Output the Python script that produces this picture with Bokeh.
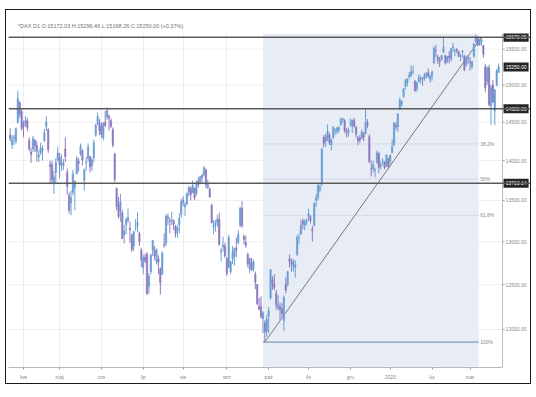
from bokeh.plotting import figure
from bokeh.models import FixedTicker, Span, ColumnDataSource, Range1d
from bokeh.embed import file_html
from bokeh.resources import INLINE
from bokeh.core.properties import value

# ---------------- data (DAX daily, 2022-03-23 .. 2023-03-22), x = trading-day index
opens = [14330,14200,14290,14250,14500,14760,14640,
 14470,14480,14520,14260,14110,14150,14260,14190,14050,14100,14130,14260,14440,14400,13950,13950,13720,13850,14010,
 14040,13960,13940,14150,13850,13560,13470,13600,13660,13830,13990,14090,14120,13750,13970,14030,14050,13930,14040,14330,14480,14480,
 14450,14300,14500,14570,14580,14520,14400,14080,13650,13450,13370,13350,13080,13200,13250,13160,13080,12950,13180,13200,13100,12900,
 12700,12820,12850,12480,12650,12900,12900,12770,12800,12680,12620,12970,12980,13300,13250,13250,13250,13180,13130,13200,13330,
 13500,13420,13460,13600,13650,13600,13650,13590,13740,13730,13780,13820,13880,13660,13640,13440,13180,13200,13230,13270,12880,12940,12950,
 12800,12700,12650,12800,12830,12930,12990,13200,13400,13060,12990,12850,12680,12750,12680,12620,12500,12260,12250,12120,12070,11980,
 12150,12350,12560,12510,12400,12240,12250,12230,12100,12500,12500,12800,12750,12720,12700,12850,13050,13100,13250,13200,13240,
 13300,13300,13150,13200,13500,13540,13630,13700,14300,14250,14300,14330,14200,14300,14380,14380,14400,14470,14530,14520,14360,14360,
 14480,14450,14520,14430,14290,14290,14290,14340,14350,14500,14310,13900,13900,13880,13980,14090,13930,13990,13980,13950,14020,
 13990,14100,14200,14460,14440,14680,14740,14840,14990,15030,15110,15130,15180,15050,14950,15050,15090,15090,15090,15130,15170,15080,
 15130,15310,15480,15390,15340,15350,15460,15410,15330,15400,15360,15520,15480,15490,15460,15400,15460,15400,15280,15370,
 15320,15250,15400,15600,15660,15560,15600,15550,15250,15050,15240,14720,15000,14650,15000,15172.03]
highs = [14420,14330,14340,14430,14925,14780,14670,
 14520,14580,14560,14300,14160,14320,14280,14250,14130,14230,14200,14410,14580,14420,14000,14000,13870,14030,14180,
 14100,14080,14020,14300,13900,13600,13620,13880,13750,14060,14030,14220,14150,13900,14050,14220,14060,14040,14270,14480,14630,14540,
 14500,14500,14650,14700,14600,14550,14430,14100,13660,13540,13580,13380,13200,13290,13400,13240,13100,13130,13270,13350,13120,12930,
 12850,12860,12880,12630,12860,13020,12950,12920,12840,12700,12890,13100,13330,13340,13290,13360,13270,13200,13200,13340,13520,
 13550,13480,13600,13680,13670,13750,13660,13750,13790,13800,13830,13930,13900,13760,13660,13460,13260,13260,13320,13350,12930,13060,12990,
 12820,13080,12780,12950,12930,13050,13140,13420,13490,13090,13070,12870,12810,12810,12790,12650,12510,12350,12370,12200,12100,12160,
 12250,12680,12600,12620,12440,12380,12300,12290,12380,12580,12660,12850,12800,12800,12780,13080,13100,13260,13280,13270,13280,
 13400,13320,13190,13480,13580,13700,13700,14160,14330,14350,14470,14360,14280,14450,14420,14440,14450,14560,14560,14540,14420,14430,
 14550,14530,14560,14450,14320,14330,14400,14370,14675,14540,14340,14000,14000,13910,14130,14110,13990,14030,13990,14080,14040,
 14080,14270,14500,14500,14620,14830,14800,14960,15080,15090,15180,15270,15270,15070,15050,15150,15130,15110,15170,15180,15230,15140,
 15200,15540,15560,15420,15390,15420,15660,15420,15400,15470,15510,15590,15510,15520,15480,15430,15490,15420,15410,15420,
 15390,15340,15580,15706,15680,15650,15660,15560,15290,15260,15280,15000,15070,14940,15220,15296.46]
lows = [14250,14150,14200,14220,14480,14560,14390,
 14300,14440,14380,14120,13970,14110,14110,13990,13980,14070,14000,14240,14380,14100,13710,13700,13580,13700,13990,
 13780,13870,13880,13980,13570,13340,13320,13560,13380,13830,13860,14060,13940,13620,13870,13990,13850,13870,13980,14310,14460,14330,
 14290,14260,14440,14530,14390,14420,14170,13730,13380,13280,13240,13030,12980,13090,13230,12990,12880,12890,13130,13110,12950,12700,
 12620,12750,12380,12400,12620,12830,12780,12730,12620,12390,12610,12930,12950,13200,13100,13200,13140,13050,13050,13100,13290,
 13430,13310,13440,13550,13500,13590,13500,13560,13660,13700,13720,13800,13650,13640,13530,13220,13090,13120,13180,12950,12770,12890,12810,
 12600,12690,12620,12740,12720,12820,12970,13170,13170,12970,12930,12700,12630,12660,12650,12450,12270,12210,12120,11960,11862,11920,
 11960,12330,12440,12440,12220,12210,12110,12140,11980,12400,12480,12700,12650,12650,12580,12830,12980,13080,13150,13140,13200,
 13250,13220,13000,13180,13420,13500,13600,13680,14170,14180,14250,14200,14130,14280,14330,14340,14360,14450,14490,14360,14300,14310,
 14440,14360,14430,14300,14200,14230,14280,14250,14340,14420,13970,13800,13850,13790,13960,13840,13890,13940,13890,13920,13900,
 13950,14100,14190,14400,14370,14660,14710,14830,14940,14980,15080,15110,15150,14910,14910,15040,15020,14990,15060,15090,15100,15030,
 15060,15290,15390,15290,15250,15340,15440,15280,15300,15300,15330,15460,15400,15440,15390,15330,15380,15190,15250,15300,
 15200,15220,15380,15590,15540,15550,15550,15380,14900,15000,14710,14460,14760,14460,14980,15168.26]
closes = [14283,14274,14305,14417,14820,14606,14415,
 14446,14518,14424,14152,14078,14284,14193,14124,14076,14164,14153,14362,14502,14142,13924,13756,13794,13979,14098,
 13939,13970,13971,14052,13674,13380,13534,13828,13739,14027,13964,14186,14007,13882,13982,14175,13919,14008,14231,14462,14575,14388,
 14340,14485,14460,14654,14556,14446,14199,13762,13427,13304,13484,13038,13126,13266,13292,13144,12912,13118,13186,13231,13003,12784,
 12813,12773,12401,12595,12843,13015,12832,12905,12757,12519,12865,12959,13308,13282,13246,13254,13210,13097,13166,13283,13484,
 13479,13449,13587,13662,13574,13688,13534,13700,13694,13795,13817,13910,13697,13697,13544,13230,13195,13220,13271,12971,12893,12961,12835,
 12631,13050,12761,12871,12916,12904,13088,13402,13189,13028,12956,12741,12803,12671,12767,12531,12284,12227,12139,12183,11976,12114,
 12209,12671,12517,12470,12273,12272,12220,12172,12355,12438,12649,12765,12741,12767,12731,13053,13052,13195,13211,13243,13253,
 13338,13257,13130,13460,13533,13688,13667,14146,14224,14313,14379,14234,14267,14431,14380,14423,14427,14539,14541,14383,14355,14397,
 14490,14529,14448,14343,14261,14264,14370,14306,14497,14460,13987,13894,13943,13885,14098,13914,13941,13995,13912,14071,13924,
 14069,14182,14490,14436,14610,14792,14774,14948,15058,15086,15134,15187,15181,14920,15033,15103,15094,15082,15132,15150,15126,15128,
 15181,15509,15476,15346,15321,15412,15524,15308,15397,15381,15507,15534,15482,15478,15398,15400,15475,15210,15381,15365,
 15305,15327,15578,15654,15559,15631,15633,15428,14960,15233,14735,14967,14768,14933,15195,15250.00]

month_ticks = [7, 26, 48, 70, 91, 114, 136, 157, 179, 200, 222, 242]
month_labels = ["kwi", "maj", "cze", "lip", "sie", "wrz", "paź", "lis", "gru", "2023", "lut", "mar"]
price_ticks = [12000, 12500, 13000, 13500, 14000, 14500, 15000, 15500]

hlines = [15670.05, 14680.00, 13713.14]
last_price = 15250.00
header = "^DAX D1 O:15172.03 H:15296.46 L:15168.26 C:15250.00 (+0.37%)"

fib_low = (134, 11862.0)
fib_high = (248, 15670.05)
fib_zone = [133, 246.5]
fib_levels = [0.382, 0.5, 0.618, 1.0]
fib_labels = ["38.2%", "50%", "61.8%", "100%"]

# ---------------- layout helpers (index / price units)
X0, X1 = -0.9, 273.8        # visible frame incl. price-scale strip
Y0, Y1 = 11590, 15723
AXIS_X = 259.1              # position of the price scale line
LBL_X = 266.2               # centre of the price tag boxes

FONT = "Liberation Sans"
p = figure(width=524, height=373, y_axis_type="log", y_axis_location=None,
           x_range=Range1d(X0, X1), y_range=Range1d(Y0, Y1),
           output_backend="svg", toolbar_location=None,
           min_border_left=2, min_border_right=0, min_border_top=23, min_border_bottom=16,
           margin=(10, 0, 0, 6), styles={"outline": "1.5px solid #1a1a1a"})
p.background_fill_color = "white"
p.border_fill_color = "white"
p.outline_line_color = None
for g in p.ygrid:
    g.visible = False

# header as title
p.title.text = header
p.title.text_font = FONT
p.title.text_font_size = "5.5px"
p.title.text_font_style = "normal"
p.title.text_color = "#707070"
p.title.align = "left"
p.title.offset = 9
p.title.standoff = 10

# x grid / axis
p.xgrid.ticker = FixedTicker(ticks=month_ticks)
p.xgrid.grid_line_color = "#efefef"
xa = p.xaxis[0]
xa.ticker = FixedTicker(ticks=month_ticks)
xa.major_label_overrides = {t: l for t, l in zip(month_ticks, month_labels)}
xa.bounds = (X0, AXIS_X)
xa.axis_line_color = "#b8b8b8"
xa.major_tick_line_color = "#999999"
xa.minor_tick_line_color = None
xa.major_tick_in = 0
xa.major_tick_out = 2
xa.major_label_text_font = FONT
xa.major_label_text_font_size = "5px"
xa.major_label_text_color = "#888888"
xa.major_label_standoff = 4

# horizontal grid (stops at price scale)
n = len(price_ticks)
p.segment(x0=[X0] * n, x1=[AXIS_X] * n, y0=price_ticks, y1=price_ticks,
          line_color="#efefef", line_width=1)

# fib zone shading
p.quad(left=[fib_zone[0]], right=[fib_zone[1]], bottom=[Y0], top=[Y1],
       fill_color="#e7ecf5", line_color=None)

# fib level lines + labels
rng = fib_high[1] - fib_low[1]
lvl_prices = [fib_high[1] - f * rng for f in fib_levels]
p.segment(x0=[fib_zone[0]] * 3, x1=[fib_zone[1]] * 3, y0=lvl_prices[:3], y1=lvl_prices[:3],
          line_color="#d3dbe7", line_width=1)
p.segment(x0=[fib_zone[0]], x1=[fib_zone[1]], y0=[lvl_prices[3]], y1=[lvl_prices[3]],
          line_color="#9fb1c9", line_width=1.6)
p.text(x=[fib_zone[1] + 0.8] * 4, y=lvl_prices, text=fib_labels,
       text_font=value(FONT), text_font_size="5px", text_color="#8a8a8a",
       text_align="left", text_baseline="middle")

# diagonal of the fibonacci tool
p.line([fib_low[0], fib_high[0]], [fib_low[1], fib_high[1]], line_color="#6b6b6b", line_width=0.9)

# candles
idx = list(range(len(closes)))
UP, DOWN = "#6a9fd4", "#8f79c0"
colors = [UP if c >= o else DOWN for o, c in zip(opens, closes)]
src = ColumnDataSource(dict(x=idx, h=highs, l=lows,
                            top=[max(o, c) for o, c in zip(opens, closes)],
                            bot=[min(o, c) for o, c in zip(opens, closes)],
                            col=colors))
p.segment(x0="x", x1="x", y0="h", y1="l", line_color="col", line_width=1, source=src)
p.vbar(x="x", width=0.7, top="top", bottom="bot", fill_color="col", line_color="col",
       line_width=0.6, source=src)

# price scale (right)
p.add_layout(Span(location=AXIS_X, dimension="height", line_color="#b8b8b8", line_width=1))
p.segment(x0=[AXIS_X] * n, x1=[AXIS_X + 1.1] * n, y0=price_ticks, y1=price_ticks,
          line_color="#999999", line_width=1)
p.text(x=[AXIS_X + 1.6] * n, y=price_ticks, text=[f"{v:.2f}" for v in price_ticks],
       text_font=value(FONT), text_font_size="5px", text_color="#888888",
       text_align="left", text_baseline="middle")

# horizontal price lines with dark tags
for v in hlines:
    p.add_layout(Span(location=v, dimension="width", line_color="#5a5a5a", line_width=1.5))
tags = hlines + [last_price]
m = len(tags)
p.rect(x=[LBL_X] * m, y=tags, width=13.2, height=9, height_units="screen",
       fill_color="#262626", line_color=None)
p.text(x=[LBL_X] * m, y=tags, text=[f"{v:.2f}" for v in tags],
       text_font=value(FONT), text_font_size="5px", text_color="white",
       text_align="center", text_baseline="middle")

open("out.html", "w").write(file_html(p, INLINE))
